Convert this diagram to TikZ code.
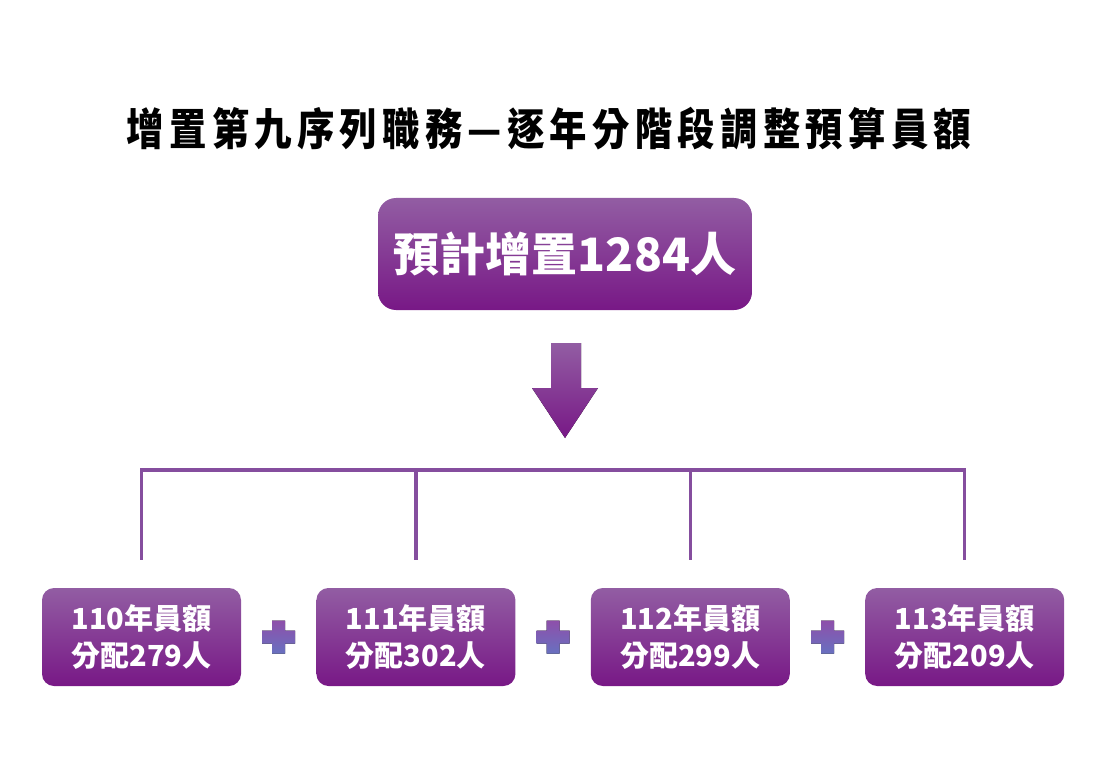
\documentclass[tikz,border=0pt]{standalone}
\usepackage{fontspec}
\newfontfamily\cjk{Noto Sans CJK TC}
\newfontfamily\cjkheavy{Noto Sans CJK TC Black}
\usepackage{xcolor}
\usepackage{tikz}
\usetikzlibrary{positioning, calc}

\definecolor{plumtop}{RGB}{146,93,163}
\definecolor{plumbot}{RGB}{120,24,134}
\definecolor{branchplum}{RGB}{133,78,158}
\definecolor{pluspurple}{RGB}{142,80,170}
\definecolor{plusblue}{RGB}{104,112,192}

\tikzset{
  heading/.style={font=\cjkheavy\fontsize{44}{50}\selectfont\addfontfeature{LetterSpace=14}, inner sep=0pt, xscale=0.85},
  totalbox/.style={rounded corners=18pt, top color=plumtop, bottom color=plumbot, minimum width=374pt, minimum height=112pt, text=white, inner sep=0pt, font=\cjk\bfseries\fontsize{46}{54}\selectfont},
  yearbox/.style={rounded corners=12pt, top color=plumtop, bottom color=plumbot, minimum width=199pt, minimum height=98pt, text=white, align=center, inner sep=0pt, font=\cjk\bfseries\fontsize{29}{37}\selectfont},
  branch/.style={draw=branchplum, line width=3.5pt},
  plussign/.style={top color=pluspurple, bottom color=plusblue},
}

\begin{document}
\begin{tikzpicture}[x=1pt, y=-1pt]
\useasboundingbox (0,0) rectangle (1100,778);
% title and total
\node[heading] (title) at (549,129) {增置第九序列職務—逐年分階段調整預算員額};
\node[totalbox] (total) at (565,254) {預計增置1284人};
% big arrow down
\fill[top color=plumtop, bottom color=plumbot] (551,343) -- (581,343) -- (581,388) -- (598,388) -- (565,438) -- (532,388) -- (551,388) -- cycle;
% four yearly boxes
\node[yearbox] (y110) at (141.5,637) {110年員額\\分配279人};
\node[yearbox, right=75pt of y110] (y111) {111年員額\\分配302人};
\node[yearbox, right=75pt of y111] (y112) {112年員額\\分配299人};
\node[yearbox, right=75pt of y112] (y113) {113年員額\\分配209人};
% bracket
\coordinate (bar) at (0,470);
\draw[branch] ([yshift=28pt]y110.north) -- (y110.north |- bar) -- (y113.north |- bar) -- ([yshift=28pt]y113.north);
\foreach \n in {y111, y112}
  \draw[branch] (\n.north |- bar) -- ([yshift=28pt]\n.north);
% plus signs between boxes
\foreach \a/\b in {y110/y111, y111/y112, y112/y113}
  \fill[plussign, shift={($(\a.east)!.5!(\b.west)$)}] (-6.5,-16.5) -- (6.5,-16.5) -- (6.5,-6.5) -- (16.5,-6.5) -- (16.5,6.5) -- (6.5,6.5) -- (6.5,16.5) -- (-6.5,16.5) -- (-6.5,6.5) -- (-16.5,6.5) -- (-16.5,-6.5) -- (-6.5,-6.5) -- cycle;
\end{tikzpicture}
\end{document}
